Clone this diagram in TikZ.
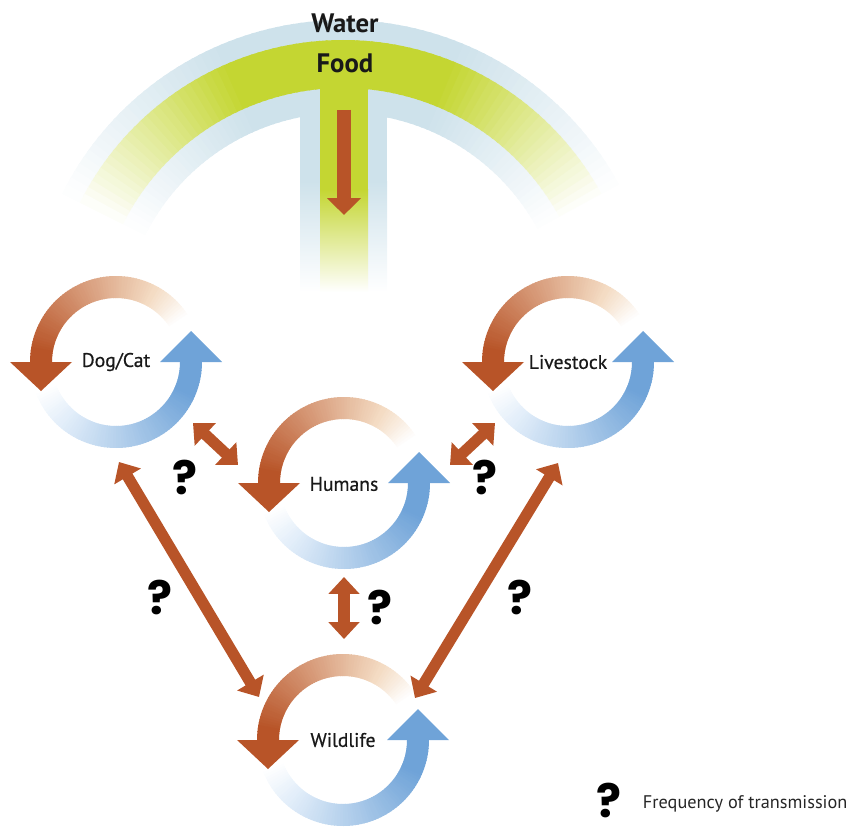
\documentclass[tikz,border=0pt]{standalone}
\usepackage{fontspec}
\setmainfont{PT Sans}
\newfontfamily\qfont{Poppins}
\usetikzlibrary{arrows.meta}
\definecolor{O1}{RGB}{184,84,40}
\definecolor{O0}{RGB}{244,220,196}
\definecolor{B1}{RGB}{111,163,216}
\definecolor{B0}{RGB}{228,239,250}
\definecolor{G1}{RGB}{196,214,50}
\definecolor{W1}{RGB}{206,226,235}
\tikzset{
  biarrow/.style={O1, line width=0.28cm,
    {Triangle[length=0.42cm,width=0.75cm]}-{Triangle[length=0.42cm,width=0.75cm]}},
  qmark/.style={font=\qfont\bfseries\fontsize{33}{33}\selectfont, text=black, inner sep=0pt},
  cyclbl/.style={font=\addfontfeatures{FakeBold=0.6}\fontsize{14}{14}\selectfont, text=black!90},
  toplbl/.style={font=\bfseries\fontsize{19}{19}\selectfont, text=black!90},
}

\begin{document}
\begin{tikzpicture}[x=0.025cm, y=0.025cm]
  \useasboundingbox (0,0) rectangle (853,-827);

  % water / food arch
  \begin{scope}[shift={(343,-334)}]
    \foreach \a in {27,28.5,...,152} {
      \pgfmathtruncatemacro\t{min(100, min(\a-27, 153-\a)*100/40)}
      \pgfmathsetmacro\b{\a+2}
      \fill[W1!\t!white] (\a:221) arc[start angle=\a, end angle=\b, radius=221]
        -- (\b:314) arc[start angle=\b, end angle=\a, radius=314] -- cycle;
    }
  \end{scope}
  \fill[W1] (300,-100) rectangle (387,-182);
  \shade[top color=W1, bottom color=white] (300,-181) rectangle (387,-292);
  \begin{scope}[shift={(343,-334)}]
    \foreach \a in {27,28.5,...,152} {
      \pgfmathtruncatemacro\t{min(100, min(\a-27, 153-\a)*100/40)}
      \pgfmathsetmacro\b{\a+2}
      \fill[G1!\t!white] (\a:246) arc[start angle=\a, end angle=\b, radius=246]
        -- (\b:294) arc[start angle=\b, end angle=\a, radius=294] -- cycle;
    }
  \end{scope}
  \fill[G1] (320,-80) rectangle (368,-190);
  \shade[top color=G1, bottom color=white] (320,-189) rectangle (368,-292);

  \node[toplbl] (water) at (345,-23) {Water};
  \node[toplbl] (food) at (345,-63) {Food};
  \coordinate (stemtop) at (344,-110);
  \coordinate (stemtip) at (344,-215);
  \draw[O1, line width=0.37cm, -{Triangle[length=0.42cm,width=0.82cm]}] (stemtop) -- (stemtip);

  % cycles
  \foreach \cx/\cy in {116/-362, 344/-483, 568/-362, 343/-740} {
    \begin{scope}[shift={(\cx,\cy)}]
      \foreach \a in {32,34,...,178} {
        \pgfmathtruncatemacro\t{min(100,(\a-60)*100/110)}
        \pgfmathtruncatemacro\s{min(100,(\a-32)*100/28)}
        \pgfmathsetmacro\b{\a+2.6}
        \ifnum\t<0 \colorlet{seg}{O0!\s!white}\else\colorlet{seg}{O1!\t!O0}\fi
        \fill[seg] (\a:64) arc[start angle=\a, end angle=\b, radius=64]
          -- (\b:86) arc[start angle=\b, end angle=\a, radius=86] -- cycle;
      }
      \foreach \a in {200,202,...,358} {
        \pgfmathtruncatemacro\t{min(100,(\a-226)*100/110)}
        \pgfmathtruncatemacro\s{min(100,(\a-200)*100/26)}
        \pgfmathsetmacro\b{\a+2.6}
        \ifnum\t<0 \colorlet{seg}{B0!\s!white}\else\colorlet{seg}{B1!\t!B0}\fi
        \fill[seg] (\a:64) arc[start angle=\a, end angle=\b, radius=64]
          -- (\b:86) arc[start angle=\b, end angle=\a, radius=86] -- cycle;
      }
      \fill[O1] (-44,0) -- (-106,0) -- (-75,-29) -- cycle;
      \fill[B1] (44,0) -- (106,0) -- (75,31) -- cycle;
    \end{scope}
  }

  \node[cyclbl] (dogcat) at (116,-362) {Dog/Cat};
  \node[cyclbl] (humans) at (344,-484) {Humans};
  \node[cyclbl] (livestock) at (568,-362) {Livestock};
  \node[cyclbl] (wildlife) at (343,-740) {Wildlife};

  % transmission arrows
  \coordinate (dogcat-h) at (193,-423);
  \coordinate (humans-d) at (238,-465);
  \coordinate (humans-l) at (450,-465);
  \coordinate (livestock-h) at (495,-423);
  \coordinate (dogcat-w) at (119,-462);
  \coordinate (wildlife-d) at (259,-697);
  \coordinate (livestock-w) at (558,-463);
  \coordinate (wildlife-l) at (415,-698);
  \coordinate (humans-w) at (344,-577);
  \coordinate (wildlife-h) at (344,-639);
  \draw[biarrow] (dogcat-h) -- (humans-d);
  \draw[biarrow] (humans-l) -- (livestock-h);
  \draw[biarrow] (dogcat-w) -- (wildlife-d);
  \draw[biarrow] (livestock-w) -- (wildlife-l);
  \draw[biarrow, line width=0.32cm] (humans-w) -- (wildlife-h);

  \node[qmark] (q1) at (185,-477) {?};
  \node[qmark] (q2) at (485,-477) {?};
  \node[qmark] (q3) at (160,-597) {?};
  \node[qmark] (q4) at (520,-597) {?};
  \node[qmark] (q5) at (380,-607) {?};

  % legend
  \node[qmark] (qleg) at (609,-800) {?};
  \node[anchor=west, font=\fontsize{13}{13}\selectfont, text=black!85] (legtext) at (638,-804) {Frequency of transmission};
\end{tikzpicture}
\end{document}
